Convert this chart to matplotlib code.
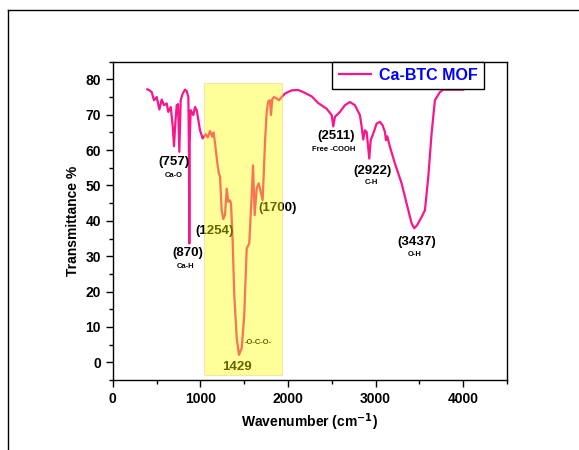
import matplotlib
matplotlib.use("Agg")
import matplotlib.pyplot as plt
from matplotlib.patches import Rectangle
from matplotlib.lines import Line2D
from matplotlib.ticker import MultipleLocator

plt.rcParams['font.family'] = ['Liberation Sans', 'DejaVu Sans']
plt.rcParams['font.weight'] = 'bold'

# FTIR spectrum
wavenumber = [395, 420, 445, 471, 502, 532, 559, 585, 616, 634, 662, 685, 699, 714,
              730, 745, 760, 776, 799, 825, 844, 863, 870, 874, 878, 890, 920, 939,
              958, 977, 996, 1027, 1060, 1085, 1110, 1135, 1150, 1170, 1190, 1210,
              1225, 1243, 1262, 1281, 1301, 1319, 1338, 1350, 1369, 1387, 1415, 1441,
              1472, 1501, 1529, 1558, 1586, 1601, 1620, 1643, 1666, 1689, 1711, 1738,
              1757, 1775, 1795, 1806, 1821, 1840, 1871, 1897, 1928, 1966, 2042, 2118,
              2175, 2270, 2346, 2441, 2499, 2517, 2536, 2593, 2650, 2707, 2764, 2821,
              2841, 2859, 2878, 2898, 2928, 2944, 2973, 3012, 3050, 3080, 3107, 3118,
              3133, 3164, 3221, 3297, 3354, 3411, 3441, 3475, 3525, 3563, 3601, 3639,
              3677, 3734, 3772, 3850, 4000]
transmittance = [77.2, 76.9, 76.4, 74.1, 75.0, 71.5, 74.3, 72.7, 73.2, 70.8, 72.2, 66.6,
                 61.1, 67.5, 72.7, 73.0, 59.5, 74.1, 76.0, 77.1, 76.7, 75.0, 60.0, 33.6,
                 62.0, 71.3, 69.9, 72.2, 71.3, 68.5, 65.6, 63.3, 64.5, 63.6, 65.4, 63.8,
                 65.0, 61.5, 57.0, 53.5, 52.5, 43.0, 40.5, 41.6, 49.1, 45.4, 45.8, 44.9,
                 34.1, 19.0, 6.8, 2.1, 4.0, 13.4, 32.2, 33.6, 47.3, 55.7, 41.6, 49.2,
                 50.6, 48.2, 45.8, 62.3, 70.8, 73.8, 74.1, 69.9, 74.4, 75.0, 74.6, 74.1,
                 75.0, 76.0, 76.9, 77.0, 76.4, 75.2, 73.3, 71.7, 69.9, 66.7, 69.4, 70.8,
                 72.7, 73.6, 72.7, 69.9, 66.6, 63.0, 65.6, 65.1, 57.6, 62.8, 64.7, 67.5,
                 68.0, 67.0, 65.1, 62.8, 63.9, 60.9, 56.2, 50.6, 44.9, 39.3, 37.9, 38.8,
                 41.1, 43.0, 52.4, 64.7, 74.1, 76.4, 77.1, 77.1, 77.1]

# peak labels: (text, x, y, big?)
peak_labels = [("(757)", 699, 56.6, True), ("Ca-O", 699, 52.9, False),
               ("(870)", 853, 30.8, True), ("Ca-H", 830, 27.0, False),
               ("(1254)", 1160, 37.2, True), ("(1700)", 1880, 43.5, True),
               ("1429", 1422, -1.2, True), ("-O-C-O-", 1661, 5.5, False),
               ("(2511)", 2548, 63.9, True), ("Free -COOH", 2517, 60.2, False),
               ("(2922)", 2966, 54.1, True), ("C-H", 2955, 50.7, False),
               ("(3437)", 3468, 34.1, True), ("O-H", 3449, 30.6, False)]

fig = plt.figure(figsize=(5.79, 4.5), dpi=100)
ax = fig.add_axes([0.1947, 0.1556, 0.681, 0.7073])

ax.plot(wavenumber, transmittance, color='#F8168C', lw=1.6, label='Ca-BTC MOF', zorder=2)

for txt, x, y, big in peak_labels:
    ax.text(x, y, txt, ha='center', va='center', fontsize=9.5 if big else 5.5,
            fontweight='bold', color='black', zorder=2)

# highlighted carboxylate region
ax.add_patch(Rectangle((1045, -3.5), 885, 82.5, facecolor='#FFFF00', alpha=0.4,
                       edgecolor='#e8c070', lw=0.8, zorder=3))

ax.set_xlim(0, 4500)
ax.set_ylim(-5, 85)
ax.xaxis.set_major_locator(MultipleLocator(1000))
ax.xaxis.set_minor_locator(MultipleLocator(500))
ax.yaxis.set_major_locator(MultipleLocator(10))
ax.yaxis.set_minor_locator(MultipleLocator(5))
ax.tick_params(which='both', direction='out', labelsize=10, width=1)
ax.tick_params(which='major', length=5)
ax.tick_params(which='minor', length=3)
for sp in ax.spines.values():
    sp.set_linewidth(1)

ax.set_xlabel('Wavenumber (cm$^{\\mathbf{-1}}$)', fontsize=10, fontweight='bold')
ax.set_ylabel('Transmittance %', fontsize=10, fontweight='bold')

leg = ax.legend(loc='upper left', bbox_to_anchor=(0.557, 1.0), borderaxespad=0,
                fancybox=False, edgecolor='black', handlelength=2.0, handletextpad=0.5,
                prop={'weight': 'bold', 'size': 11.5}, borderpad=0.4, framealpha=1)
leg.get_frame().set_linewidth(1)
for t in leg.get_texts():
    t.set_color('#0000FF')

# outer frame lines
fig.add_artist(Line2D([8 / 579, 1], [1 - 10 / 450, 1 - 10 / 450], color='black', lw=1))
fig.add_artist(Line2D([8 / 579, 8 / 579], [0, 1 - 10 / 450], color='black', lw=1))

fig.savefig('out.png', dpi=100)
